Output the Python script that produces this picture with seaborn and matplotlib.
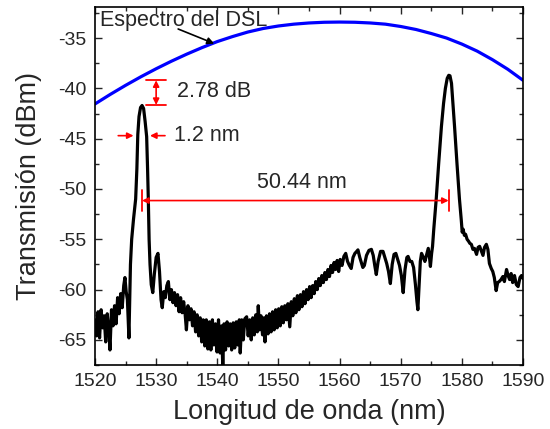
import matplotlib
matplotlib.use("Agg")
import matplotlib.pyplot as plt
import seaborn as sns
import numpy as np
import pandas as pd

# ---- data ----
dsl_wl = [1520, 1522.5, 1525, 1527.5, 1530, 1532.5, 1535, 1537.5, 1540, 1542.5, 1545,
          1547.5, 1550, 1552.5, 1555, 1557.5, 1560, 1562.5, 1565, 1567.5, 1570, 1572.5,
          1575, 1577.5, 1580, 1582.5, 1585, 1587.5, 1590]
dsl_db = [-41.55, -40.6, -39.7, -38.85, -38.05, -37.3, -36.6, -35.95, -35.35, -34.85, -34.4,
          -34.05, -33.8, -33.62, -33.5, -33.43, -33.41, -33.43, -33.5, -33.62, -33.85, -34.15,
          -34.55, -35.0, -35.6, -36.3, -37.15, -38.1, -39.2]

trans_wl = [
    1520.00, 1520.25, 1520.50, 1520.75, 1521.00, 1521.25, 1521.50, 1521.75, 1522.00, 1522.25,
    1522.45, 1522.70, 1522.95, 1523.20, 1523.45, 1523.70, 1523.95, 1524.20, 1524.45, 1524.70,
    1524.90, 1525.10, 1525.30, 1525.55, 1525.80, 1526.00, 1526.30, 1526.65, 1526.85, 1527.00,
    1527.20, 1527.45, 1527.70, 1527.95, 1528.20, 1528.45, 1528.60, 1528.72, 1528.85, 1529.00,
    1529.20, 1529.45, 1529.70, 1530.00, 1530.30, 1530.55, 1530.80, 1531.00, 1531.25, 1531.50,
    1531.75, 1532.00, 1532.25, 1532.50, 1532.75, 1533.00, 1533.25, 1533.50, 1533.75, 1534.00,
    1534.25, 1534.50, 1534.75, 1534.95, 1535.20, 1535.45, 1535.70, 1535.95, 1536.20, 1536.45,
    1536.70, 1536.95, 1537.20, 1537.45, 1537.70, 1537.95, 1538.20, 1538.45, 1538.70, 1538.95,
    1539.20, 1539.45, 1539.70, 1539.95, 1540.20, 1540.45, 1540.70, 1540.90, 1541.10, 1541.35,
    1541.60, 1541.85, 1542.10, 1542.35, 1542.60, 1542.85, 1543.10, 1543.35, 1543.60, 1543.75,
    1544.00, 1544.25, 1544.50, 1544.80, 1545.05, 1545.30, 1545.55, 1545.80, 1546.05, 1546.30,
    1546.55, 1546.70, 1546.90, 1547.15, 1547.40, 1547.65, 1547.80, 1548.05, 1548.30, 1548.55,
    1548.80, 1549.05, 1549.30, 1549.55, 1549.80, 1550.05, 1550.30, 1550.55, 1550.80, 1551.05,
    1551.30, 1551.55, 1551.85, 1552.10, 1552.35, 1552.60, 1552.85, 1553.10, 1553.35, 1553.60,
    1553.85, 1554.10, 1554.35, 1554.60, 1554.85, 1555.10, 1555.35, 1555.60, 1555.85, 1556.10,
    1556.35, 1556.60, 1556.85, 1557.10, 1557.35, 1557.60, 1557.85, 1558.10, 1558.35, 1558.60,
    1558.85, 1559.10, 1559.35, 1559.60, 1559.85, 1560.10, 1560.40, 1560.70, 1561.00, 1561.30,
    1561.60, 1561.90, 1562.20, 1562.50, 1562.80, 1563.00, 1563.30, 1563.55, 1563.80, 1564.05,
    1564.40, 1564.80, 1565.20, 1565.50, 1565.75, 1566.00, 1566.30, 1566.70, 1567.10, 1567.40,
    1567.70, 1568.00, 1568.30, 1568.60, 1568.90, 1569.20, 1569.50, 1569.80, 1570.10, 1570.40,
    1570.70, 1571.00, 1571.20, 1571.50, 1571.80, 1572.10, 1572.40, 1572.65, 1572.80, 1573.00,
    1573.20, 1573.40, 1573.70, 1573.95, 1574.20, 1574.50, 1574.70, 1574.85, 1575.05, 1575.20,
    1575.40, 1575.60, 1575.80, 1576.20, 1576.65, 1577.00, 1577.30, 1577.60, 1577.85, 1578.05,
    1578.30, 1578.50, 1578.80, 1579.20, 1579.60, 1579.90, 1580.05, 1580.20, 1580.40, 1580.60,
    1580.85, 1581.10, 1581.30, 1581.55, 1581.80, 1582.05, 1582.40, 1582.65, 1582.90, 1583.20,
    1583.45, 1583.70, 1584.00, 1584.25, 1584.50, 1584.80, 1585.05, 1585.30, 1585.60, 1585.85,
    1586.10, 1586.40, 1586.70, 1586.95, 1587.30, 1587.55, 1587.80, 1588.05, 1588.30, 1588.60,
    1588.90, 1589.20, 1589.50, 1589.75, 1590.00]
trans_db = [
    -63.0, -64.6, -62.2, -64.8, -62.0, -63.8, -62.6, -65.2, -62.4, -64.0,
    -66.0, -62.0, -63.6, -61.6, -63.4, -60.8, -62.4, -60.4, -61.8, -59.6,
    -58.8, -60.2, -61.0, -64.8, -57.5, -55.0, -53.0, -51.0, -48.0, -44.6,
    -42.8, -41.9, -41.7, -42.0, -43.3, -44.8, -48.0, -51.0, -55.0, -57.5,
    -59.5, -60.3, -58.5, -56.8, -56.4, -58.2, -61.0, -61.8, -60.2, -60.8,
    -59.6, -59.2, -61.0, -60.0, -61.3, -60.3, -61.6, -60.5, -62.2, -60.8,
    -62.3, -61.2, -62.5, -64.0, -61.6, -63.0, -61.9, -63.6, -62.2, -64.2,
    -62.5, -64.6, -62.8, -65.2, -63.0, -65.6, -63.0, -65.9, -63.2, -66.0,
    -63.0, -65.5, -63.4, -66.2, -63.0, -66.3, -63.6, -67.7, -63.4, -66.0,
    -63.2, -65.6, -63.4, -66.0, -63.3, -65.8, -63.2, -65.5, -63.0, -66.3,
    -63.0, -65.0, -62.9, -62.7, -64.6, -63.0, -65.0, -62.8, -64.5, -62.5,
    -64.2, -61.6, -64.0, -62.6, -64.5, -62.8, -65.2, -62.6, -64.4, -62.4,
    -64.2, -62.2, -64.0, -62.0, -63.8, -61.9, -63.6, -61.7, -63.3, -61.6,
    -63.0, -61.4, -63.7, -61.2, -62.6, -60.9, -62.3, -60.6, -62.0, -60.5,
    -61.7, -60.2, -61.4, -60.0, -61.0, -59.7, -60.8, -59.6, -60.4, -59.2,
    -60.0, -58.9, -59.6, -58.6, -59.3, -58.3, -59.0, -58.0, -58.7, -57.6,
    -58.3, -57.3, -58.0, -57.1, -58.2, -57.0, -57.6, -56.7, -56.4, -57.2,
    -57.6, -57.9, -56.8, -56.4, -56.2, -56.05, -56.8, -57.3, -57.8, -57.6,
    -56.6, -56.1, -56.0, -56.6, -57.6, -58.5, -57.2, -56.2, -56.2, -56.8,
    -57.4, -58.2, -59.4, -57.5, -56.5, -56.4, -57.0, -57.6, -58.6, -60.3,
    -58.0, -56.8, -56.7, -57.2, -57.2, -57.8, -59.5, -61.2, -62.0, -59.5,
    -57.2, -56.4, -56.8, -57.2, -56.6, -55.9, -56.8, -57.7, -56.4, -55.7,
    -54.0, -52.5, -51.0, -47.5, -43.8, -41.5, -40.0, -39.0, -38.7, -38.75,
    -39.5, -41.2, -43.8, -47.5, -51.0, -53.1, -54.3, -54.0, -54.6, -54.5,
    -55.0, -55.2, -55.4, -55.5, -56.0, -55.9, -56.5, -55.8, -55.7, -56.2,
    -56.6, -55.8, -55.5, -56.0, -57.4, -57.9, -58.2, -58.8, -60.1, -59.3,
    -59.2, -59.0, -58.7, -59.2, -58.0, -58.6, -59.0, -58.4, -59.3, -58.6,
    -59.5, -59.7, -58.8, -58.6, -58.9]

x_ticks = [1520, 1530, 1540, 1550, 1560, 1570, 1580, 1590]
y_ticks = [-65, -60, -55, -50, -45, -40, -35]

sns.set_style("ticks")
plt.rcParams['font.family'] = ['Liberation Sans', 'DejaVu Sans']
plt.rcParams['axes.unicode_minus'] = False

fig = plt.figure(figsize=(5.5, 4.29), dpi=100)
ax = fig.add_axes([0.1727, 0.149, 0.951 - 0.1727, 0.984 - 0.149])

df_dsl = pd.DataFrame({"wl": dsl_wl, "db": dsl_db})
df_tr = pd.DataFrame({"wl": trans_wl, "db": trans_db})
sns.lineplot(data=df_dsl, x="wl", y="db", color=(0, 0, 1), lw=2.3, ax=ax,
             estimator=None, sort=False)
sns.lineplot(data=df_tr, x="wl", y="db", color="black", lw=2.3, ax=ax,
             estimator=None, sort=False)

ax.set_xlim(1520, 1590)
ax.set_ylim(-67.5, -31.9)
ax.set_xticks(x_ticks)
ax.set_yticks(y_ticks)
ax.set_xticks(np.arange(1525, 1590, 10), minor=True)
ax.set_yticks(np.arange(-67.5, -31, 2.5), minor=True)
ax.tick_params(which='both', direction='in', top=True, right=True, width=1.0,
               labelsize=14, pad=6)
ax.tick_params(which='major', length=5)
ax.tick_params(which='minor', length=3)
for s in ax.spines.values():
    s.set_linewidth(1.2)
    s.set_color('black')

ax.set_xlabel("Longitud de onda (nm)", fontsize=19.5, labelpad=6)
ax.set_ylabel("Transmisión (dBm)", fontsize=19.5, labelpad=12)

red = (1, 0, 0)
# 2.78 dB
ax.plot([1528.4, 1531.65], [-39.15, -39.15], color=red, lw=1.3)
ax.plot([1528.4, 1531.65], [-41.7, -41.7], color=red, lw=1.3)
ax.annotate("", xy=(1530.0, -39.2), xytext=(1530.0, -41.65),
            arrowprops=dict(arrowstyle="<|-|>", color=red, lw=1.2, mutation_scale=9,
                            shrinkA=0, shrinkB=0))
ax.text(1533.4, -40.3, "2.78 dB", fontsize=15.5, va='center', ha='left')

# 1.2 nm
ax.annotate("", xy=(1526.3, -44.7), xytext=(1523.8, -44.7),
            arrowprops=dict(arrowstyle="-|>", color=red, lw=1.2, mutation_scale=9,
                            shrinkA=0, shrinkB=0))
ax.annotate("", xy=(1529.0, -44.7), xytext=(1531.45, -44.7),
            arrowprops=dict(arrowstyle="-|>", color=red, lw=1.2, mutation_scale=9,
                            shrinkA=0, shrinkB=0))
ax.text(1532.9, -44.7, "1.2 nm", fontsize=15.5, va='center', ha='left')

# 50.44 nm
ax.plot([1527.63, 1527.63], [-50.1, -52.2], color=red, lw=1.3)
ax.plot([1577.9, 1577.9], [-50.1, -52.2], color=red, lw=1.3)
ax.annotate("", xy=(1527.7, -51.15), xytext=(1577.83, -51.15),
            arrowprops=dict(arrowstyle="<|-|>", color=red, lw=1.2, mutation_scale=9,
                            shrinkA=0, shrinkB=0))
ax.text(1553.8, -49.4, "50.44 nm", fontsize=15.5, va='center', ha='center')

# DSL label
ax.text(1520.9, -33.3, "Espectro del DSL", fontsize=15.5, va='center', ha='left')
ax.annotate("", xy=(1539.5, -35.55), xytext=(1533.6, -34.1),
            arrowprops=dict(arrowstyle="-|>", color='black', lw=1.2, mutation_scale=10,
                            shrinkA=0, shrinkB=0))

fig.savefig("out.png", dpi=100)
